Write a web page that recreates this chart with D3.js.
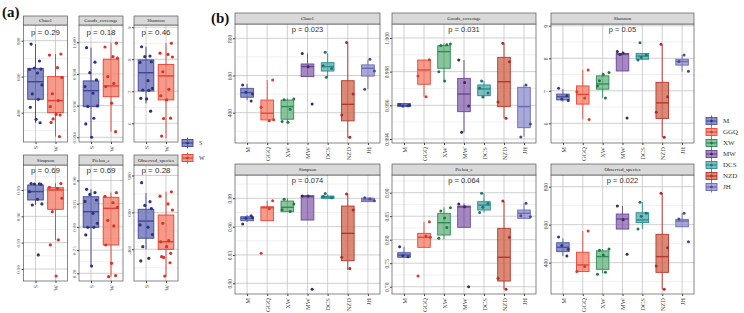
<!DOCTYPE html>
<html>
<head>
<meta charset="utf-8">
<script src="https://cdn.jsdelivr.net/npm/d3@7"></script>
<style>
  body { margin: 0; background: #fff; }
  svg { display: block; }
</style>
</head>
<body>
<svg id="chart" width="744" height="313"></svg>
<script>
// ---------- data ----------
const seasons = ['S', 'W'];
const groups = ['M', 'GGQ', 'XW', 'MW', 'DCS', 'NZD', 'JH'];
const metrics = ['Chao1', 'Goods_coverage', 'Shannon', 'Simpson', 'Pielou_e', 'Observed_species'];

const pSeason = ['0.29', '0.18', '0.46', '0.69', '0.69', '0.28'];
const pGroup = ['0.023', '0.031', '0.05', '0.074', '0.064', '0.022'];

const ticksChao1 = [400, 600, 800];
const ticksGoods = [0.994, 0.996, 0.998, 1.000];
const ticksShannon = [6, 7, 8, 9];
const ticksSimpson = [0.90, 0.93, 0.96, 0.99];
const ticksPielou = [0.70, 0.75, 0.80, 0.85, 0.90];
const ticksObserved = [400, 600, 800];

// boxes: [lower whisker, q1, median, q3, upper whisker]
// (a) by season
const seasonChao1Box = [[344, 474, 572, 646, 781], [267, 400, 467, 600, 726]];
const seasonChao1Pts = [
  [781, 687, 648, 642, 640, 620, 554, 504, 474, 430, 363, 344],
  [726, 720, 650, 596, 505, 467, 433, 390, 387, 365, 346, 267]
];
const seasonGoodsBox = [[0.9940, 0.99593, 0.99694, 0.99756, 0.99966], [0.99435, 0.99656, 0.99724, 0.99893, 0.99994]];
const seasonGoodsPts = [
  [0.99966, 0.99874, 0.99808, 0.99762, 0.9972, 0.99678, 0.99598, 0.99595, 0.9952, 0.99484, 0.9940],
  [0.99994, 0.9997, 0.99909, 0.9990, 0.99783, 0.9974, 0.9972, 0.99615, 0.99435]
];
const seasonShannonBox = [[6.62, 7.01, 7.58, 7.98, 8.39], [5.53, 6.73, 7.48, 7.84, 8.50]];
const seasonShannonPts = [
  [8.39, 8.10, 8.08, 7.92, 7.90, 7.33, 7.09, 7.04, 7.03, 6.78, 6.76, 6.38],
  [8.50, 8.19, 8.15, 8.07, 7.61, 7.06, 6.86, 6.73, 6.16, 6.15, 5.60]
];
const seasonSimpsonBox = [[0.9729, 0.9786, 0.9881, 0.9957, 0.9976], [0.9331, 0.968, 0.990, 0.9926, 0.9976]];
const seasonSimpsonPts = [
  [0.9973, 0.9970, 0.9968, 0.9965, 0.9881, 0.9794, 0.9741, 0.9729, 0.916],
  [0.9973, 0.9931, 0.9920, 0.9806, 0.9653, 0.9331, 0.9274, 0.892]
];
const seasonPielouBox = [[0.7157, 0.799, 0.8328, 0.865, 0.881], [0.6927, 0.761, 0.840, 0.8638, 0.8737]];
const seasonPielouPts = [
  [0.881, 0.8737, 0.870, 0.858, 0.855, 0.8293, 0.8078, 0.7991, 0.799, 0.7826, 0.7157],
  [0.8737, 0.866, 0.852, 0.842, 0.8142, 0.802, 0.761, 0.7215, 0.695, 0.6927]
];
const seasonObservedBox = [[400, 460, 553, 617, 704], [255, 400, 441, 586, 712]];
const seasonObservedPts = [
  [761, 658, 638, 621, 532, 520, 480, 414, 351, 337],
  [712, 688, 646, 613, 541, 447, 441, 414, 378, 356, 360, 327, 255]
];

// (b) by site
const groupChao1Box = [
  [468, 483, 508, 531, 555], [361, 361, 397, 468, 576], [343, 365, 433, 468, 477],
  [594, 594, 648, 662, 719], [594, 624, 648, 669, 719], [266, 356, 445, 572, 777], [526, 597, 639, 657, 684]
];
const groupChao1Pts = [
  [549, 463, 510, 500], [576, 429, 357, 362], [474, 470, 418, 352, 348],
  [719, 647, 447], [725, 652, 638, 590], [777, 501, 388, 268], [687, 624, 526]
];
const groupGoodsBox = [
  [0.99590, 0.99592, 0.99600, 0.99611, 0.99612], [0.99651, 0.99725, 0.99810, 0.99869, 0.99870],
  [0.99745, 0.99820, 0.99919, 0.99954, 0.99968], [0.99440, 0.99562, 0.99667, 0.99760, 0.99869],
  [0.99646, 0.99657, 0.99697, 0.99721, 0.99745], [0.99523, 0.99592, 0.99740, 0.99885, 0.99968],
  [0.99414, 0.99467, 0.99592, 0.99707, 0.99721]
];
const groupGoodsPts = [
  [0.99604, 0.99598, 0.99596, 0.99600], [0.9987, 0.99774, 0.99651], [0.99964, 0.99955, 0.99960, 0.9980, 0.99745],
  [0.99869, 0.99735, 0.99596, 0.9944], [0.99745, 0.99703, 0.99673, 0.99650], [0.99968, 0.99859, 0.9962, 0.99523],
  [0.99721, 0.99489, 0.99412]
];
const groupShannonBox = [
  [6.67, 6.72, 6.82, 6.90, 7.05], [6.12, 6.59, 6.89, 7.15, 7.64], [6.78, 7.05, 7.21, 7.46, 7.56],
  [7.61, 7.61, 8.12, 8.15, 8.21], [7.95, 7.97, 8.07, 8.15, 8.15], [5.57, 6.15, 6.63, 7.26, 8.41],
  [7.59, 7.79, 7.90, 7.97, 8.10]
];
const groupShannonPts = [
  [7.08, 6.85, 6.75, 6.70], [7.64, 6.97, 6.78, 6.12], [7.56, 7.31, 6.78, 7.15, 7.50],
  [8.21, 8.16, 6.16, 8.12], [8.48, 7.95, 8.10, 8.03], [8.43, 6.82, 6.34, 5.57], [8.10, 7.60, 7.90]
];
const groupSimpsonBox = [
  [0.9650, 0.9663, 0.9688, 0.9705, 0.9723], [0.9663, 0.9663, 0.9800, 0.9811, 0.9875],
  [0.9758, 0.9758, 0.9805, 0.9871, 0.9899], [0.9670, 0.9670, 0.9917, 0.9928, 0.9930],
  [0.9900, 0.9900, 0.9912, 0.9924, 0.9940], [0.9141, 0.9239, 0.9529, 0.9818, 0.9946],
  [0.9865, 0.9865, 0.9883, 0.9901, 0.9910]
];
const groupSimpsonPts = [
  [0.9628, 0.9715, 0.9690, 0.9695], [0.9875, 0.9317, 0.9790], [0.9840, 0.9890, 0.9760, 0.9780],
  [0.9925, 0.9925, 0.8936], [0.9952, 0.9920, 0.9905], [0.9946, 0.9776, 0.9275, 0.9158], [0.9895, 0.9875, 0.9905]
];
const groupPielouBox = [
  [0.7626, 0.7626, 0.7674, 0.7723, 0.785], [0.7838, 0.7838, 0.8051, 0.8136, 0.8383],
  [0.8009, 0.810, 0.8362, 0.8561, 0.869], [0.8264, 0.8264, 0.8696, 0.8717, 0.8774],
  [0.858, 0.8632, 0.8738, 0.8809, 0.8987], [0.6945, 0.7121, 0.7626, 0.8242, 0.8823],
  [0.8455, 0.8455, 0.8562, 0.8632, 0.8774]
];
const groupPielouPts = [
  [0.785, 0.764, 0.766], [0.8383, 0.7228, 0.808, 0.805], [0.868, 0.861, 0.826, 0.803, 0.846],
  [0.876, 0.870, 0.700], [0.8987, 0.858, 0.877, 0.869], [0.8823, 0.8051, 0.7179, 0.6945], [0.8774, 0.849, 0.851]
];
const groupObservedBox = [
  [435, 458, 481, 505, 528], [353, 353, 388, 455, 567], [344, 365, 432, 462, 472],
  [577, 577, 630, 656, 698], [577, 611, 625, 663, 718], [260, 349, 432, 549, 765], [589, 589, 619, 628, 660]
];
const groupObservedPts = [
  [535, 435, 490, 470], [567, 353, 380], [472, 466, 350, 339, 440],
  [698, 626, 444], [718, 577, 660, 645], [765, 479, 383, 260], [660, 510, 630]
];

// ---------- colours ----------
const seasonFill = ['#6B70B6', '#F4826C'];
const seasonLine = ['#3E4499', '#E53E30'];
const seasonDot = ['#2D3380', '#D8322A'];
const groupFill = ['#6D76BA', '#F5826D', '#6DB583', '#8F6BB0', '#5BAEAE', '#D26B55', '#9393CF'];
const groupLine = ['#4A55A2', '#E8463A', '#2E8B57', '#6A4597', '#2A8C8C', '#B8352B', '#6A6AB5'];
const groupDot = ['#2E3580', '#D93A2E', '#1E7A45', '#3A2A5A', '#1E7373', '#B02A2A', '#4A4A90'];

const SERIF = '"Liberation Serif", "DejaVu Serif", serif';
const SANS = '"Liberation Sans", Arial, sans-serif';
const JITTER = [-0.22, 0.2, -0.06, 0.27, -0.3, 0.1, 0.32, -0.16, 0.14, -0.26, 0.03, 0.23, -0.12];

const fmt0 = d3.format('d');
const fmt2 = d3.format('.2f');
const fmt3 = d3.format('.3f');

const svg = d3.select('#chart');

function drawFacet(s) {
  const x = d3.scalePoint().domain(s.cats).range([s.left, s.right]).padding(0.6);
  const y = d3.scaleLinear().domain(s.domain).range([s.bottom, s.top]);
  const step = x.step();
  const g = svg.append('g');

  g.append('rect')
    .attr('x', s.left).attr('y', s.top)
    .attr('width', s.right - s.left).attr('height', s.bottom - s.top)
    .attr('fill', '#fff');

  // grid
  const t = s.ticks, d = t[1] - t[0];
  const minor = [t[0] - d / 2, ...t.map(v => v + d / 2)]
    .filter(v => v > s.domain[0] && v < s.domain[1]);
  g.selectAll('.minor').data(minor).join('line')
    .attr('x1', s.left).attr('x2', s.right)
    .attr('y1', v => y(v)).attr('y2', v => y(v))
    .attr('stroke', '#e0e0e0').attr('stroke-width', 0.5);
  g.selectAll('.major').data(t).join('line')
    .attr('x1', s.left).attr('x2', s.right)
    .attr('y1', v => y(v)).attr('y2', v => y(v))
    .attr('stroke', '#c4c4c4').attr('stroke-width', 0.8);
  g.selectAll('.vgrid').data(s.cats).join('line')
    .attr('x1', c => x(c)).attr('x2', c => x(c))
    .attr('y1', s.top).attr('y2', s.bottom)
    .attr('stroke', '#c4c4c4').attr('stroke-width', 0.8);

  // boxes
  const bw = step * s.boxFrac;
  const boxes = g.selectAll('.box').data(s.cats).join('g');
  boxes.append('line')
    .attr('x1', c => x(c)).attr('x2', c => x(c))
    .attr('y1', (c, i) => y(s.box[i][0])).attr('y2', (c, i) => y(s.box[i][4]))
    .attr('stroke', (c, i) => s.line[i]).attr('stroke-width', 0.9);
  boxes.append('rect')
    .attr('x', c => x(c) - bw / 2).attr('width', bw)
    .attr('y', (c, i) => y(s.box[i][3]))
    .attr('height', (c, i) => Math.max(0.8, y(s.box[i][1]) - y(s.box[i][3])))
    .attr('fill', (c, i) => s.fill[i]).attr('fill-opacity', 0.8)
    .attr('stroke', (c, i) => s.line[i]).attr('stroke-width', 0.9);
  boxes.append('line')
    .attr('x1', c => x(c) - bw / 2).attr('x2', c => x(c) + bw / 2)
    .attr('y1', (c, i) => y(s.box[i][2])).attr('y2', (c, i) => y(s.box[i][2]))
    .attr('stroke', (c, i) => s.line[i]).attr('stroke-width', 1.4);

  // jittered points
  s.cats.forEach((c, i) => {
    g.selectAll(null).data(s.pts[i]).join('circle')
      .attr('cx', (v, j) => x(c) + JITTER[(j + i * 3) % JITTER.length] * step)
      .attr('cy', v => y(v))
      .attr('r', s.r)
      .attr('fill', s.dot[i]);
  });

  // border
  g.append('rect')
    .attr('x', s.left).attr('y', s.top)
    .attr('width', s.right - s.left).attr('height', s.bottom - s.top)
    .attr('fill', 'none').attr('stroke', '#555').attr('stroke-width', 0.7);

  // strip
  g.append('rect')
    .attr('x', s.left).attr('y', s.stripTop)
    .attr('width', s.right - s.left).attr('height', s.top - s.stripTop)
    .attr('fill', '#d9d9d9').attr('stroke', '#555').attr('stroke-width', 0.7);
  g.append('text')
    .attr('x', (s.left + s.right) / 2).attr('y', (s.stripTop + s.top) / 2)
    .attr('dy', '0.35em').attr('text-anchor', 'middle')
    .attr('font-family', SERIF).attr('font-size', s.stripSize).attr('fill', '#1a1a1a')
    .text(s.title);

  // p value
  g.append('text')
    .attr('x', (s.left + s.right) / 2).attr('y', s.pY)
    .attr('text-anchor', 'middle')
    .attr('font-family', SANS).attr('font-size', s.pSize).attr('fill', '#333')
    .text('p = ' + s.p);

  // y axis, labels rotated like the original
  const ya = g.append('g')
    .attr('transform', `translate(${s.left},0)`)
    .call(d3.axisLeft(y).tickValues(s.ticks).tickFormat(s.fmt).tickSize(2));
  ya.select('.domain').remove();
  ya.selectAll('line').attr('stroke', '#444');
  ya.selectAll('text')
    .attr('x', 0).attr('dy', null).attr('y', -3.5)
    .attr('transform', 'rotate(-90)')
    .attr('text-anchor', 'middle')
    .attr('font-family', SERIF).attr('font-size', s.tickSize).attr('fill', '#4d4d4d');

  const xa = g.append('g')
    .attr('transform', `translate(0,${s.bottom})`)
    .call(d3.axisBottom(x).tickSize(2));
  xa.select('.domain').remove();
  xa.selectAll('line').attr('stroke', '#444');
  xa.selectAll('text')
    .attr('y', 0).attr('x', -4).attr('dy', '0.35em')
    .attr('transform', 'rotate(-90)')
    .attr('text-anchor', 'end')
    .attr('font-family', SERIF).attr('font-size', s.catSize).attr('fill', '#4d4d4d');
}

function drawLegend(items, fill, line, dot, x0, y0, dy, labelSize) {
  const g = svg.append('g');
  items.forEach((name, i) => {
    const cy = y0 + i * dy;
    g.append('line').attr('x1', x0 + 5.5).attr('x2', x0 + 5.5)
      .attr('y1', cy - 5.5).attr('y2', cy + 5.5)
      .attr('stroke', line[i]).attr('stroke-width', 0.9);
    g.append('rect').attr('x', x0).attr('y', cy - 3.5).attr('width', 11).attr('height', 7)
      .attr('fill', fill[i]).attr('fill-opacity', 0.8)
      .attr('stroke', line[i]).attr('stroke-width', 0.9);
    g.append('line').attr('x1', x0).attr('x2', x0 + 11)
      .attr('y1', cy).attr('y2', cy)
      .attr('stroke', line[i]).attr('stroke-width', 1.2);
    g.append('circle').attr('cx', x0 + 5.5).attr('cy', cy).attr('r', 1.3).attr('fill', dot[i]);
    g.append('text').attr('x', x0 + 17).attr('y', cy).attr('dy', '0.35em')
      .attr('font-family', SERIF).attr('font-size', labelSize).attr('fill', '#333')
      .text(name);
  });
}

// ---------- panel (a): season ----------
const aCols = [[23.5, 67.5], [79, 123], [134, 178]];
const aRows = [{ strip: 16, top: 25, bottom: 142, pY: 34.5 }, { strip: 155, top: 165, bottom: 281, pY: 173 }];
const aFacets = [
  { box: seasonChao1Box, pts: seasonChao1Pts, domain: [237, 887], ticks: ticksChao1, fmt: fmt0 },
  { box: seasonGoodsBox, pts: seasonGoodsPts, domain: [0.9937, 1.00109], ticks: ticksGoods, fmt: fmt3 },
  { box: seasonShannonBox, pts: seasonShannonPts, domain: [5.416, 9.07], ticks: ticksShannon, fmt: fmt0 },
  { box: seasonSimpsonBox, pts: seasonSimpsonPts, domain: [0.88633, 1.01847], ticks: ticksSimpson, fmt: fmt2 },
  { box: seasonPielouBox, pts: seasonPielouPts, domain: [0.6834, 0.9334], ticks: ticksPielou, fmt: fmt2 },
  { box: seasonObservedBox, pts: seasonObservedPts, domain: [228.2, 856.9], ticks: ticksObserved, fmt: fmt0 }
];
aFacets.forEach((f, k) => {
  const col = aCols[k % 3], row = aRows[Math.floor(k / 3)];
  drawFacet(Object.assign({}, f, {
    cats: seasons, title: metrics[k], p: pSeason[k],
    left: col[0], right: col[1], stripTop: row.strip, top: row.top, bottom: row.bottom, pY: row.pY,
    fill: seasonFill, line: seasonLine, dot: seasonDot,
    boxFrac: 0.78, r: 1.6, stripSize: 5, pSize: 8, tickSize: 5, catSize: 6
  }));
});
drawLegend(seasons, seasonFill, seasonLine, seasonDot, 182, 143, 15, 6);

// ---------- panel (b): site ----------
const bCols = [[235, 380], [392, 536], [551, 694]];
const bRows = [{ strip: 13, top: 24, bottom: 143, pY: 31.5 }, { strip: 164, top: 175, bottom: 294, pY: 182.5 }];
const bFacets = [
  { box: groupChao1Box, pts: groupChao1Pts, domain: [237, 877], ticks: ticksChao1, fmt: fmt0 },
  { box: groupGoodsBox, pts: groupGoodsPts, domain: [0.99376, 1.00083], ticks: ticksGoods, fmt: fmt3 },
  { box: groupShannonBox, pts: groupShannonPts, domain: [5.394, 9.055], ticks: ticksShannon, fmt: fmt0 },
  { box: groupSimpsonBox, pts: groupSimpsonPts, domain: [0.88867, 1.01468], ticks: ticksSimpson, fmt: fmt2 },
  { box: groupPielouBox, pts: groupPielouPts, domain: [0.6845, 0.9377], ticks: ticksPielou, fmt: fmt2 },
  { box: groupObservedBox, pts: groupObservedPts, domain: [235, 861.6], ticks: ticksObserved, fmt: fmt0 }
];
bFacets.forEach((f, k) => {
  const col = bCols[k % 3], row = bRows[Math.floor(k / 3)];
  drawFacet(Object.assign({}, f, {
    cats: groups, title: metrics[k], p: pGroup[k],
    left: col[0], right: col[1], stripTop: row.strip, top: row.top, bottom: row.bottom, pY: row.pY,
    fill: groupFill, line: groupLine, dot: groupDot,
    boxFrac: 0.63, r: 1.5, stripSize: 5, pSize: 7.5, tickSize: 5.5, catSize: 6.5
  }));
});
drawLegend(groups, groupFill, groupLine, groupDot, 706, 121, 11, 7);

// panel tags
svg.append('text').attr('x', 2).attr('y', 17)
  .attr('font-family', SERIF).attr('font-weight', 'bold').attr('font-size', 15).attr('fill', '#111')
  .text('(a)');
svg.append('text').attr('x', 211).attr('y', 23)
  .attr('font-family', SERIF).attr('font-weight', 'bold').attr('font-size', 15).attr('fill', '#111')
  .text('(b)');
</script>
</body>
</html>
